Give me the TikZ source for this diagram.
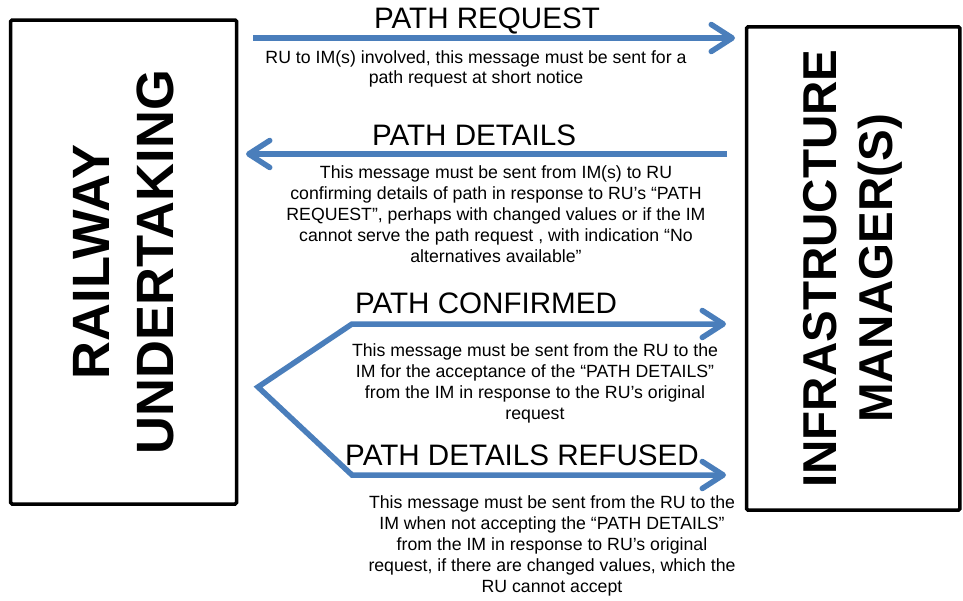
\documentclass[tikz,border=0pt]{standalone}
\usepackage{fontspec}
\setmainfont{Liberation Sans}
\usetikzlibrary{arrows.meta}
\definecolor{flow}{RGB}{74,126,187}

\tikzset{
  barb/.tip={Straight Barb[length=21pt,width=27pt,round]},
}

\begin{document}
\begin{tikzpicture}[x=1pt,y=-1pt,
  party/.style 2 args={draw=black, line width=3.5pt, rounded corners=1.5pt, inner sep=0pt,
    rotate=90, align=center, font=\bfseries\fontsize{#1}{#2}\selectfont},
  msg/.style={draw=flow, line width=5.5pt, line join=miter, -{barb}},
  msgboth/.style={draw=flow, line width=5.5pt, line join=miter, {barb}-{barb}},
  title/.style={font=\fontsize{29.6}{30}\selectfont, anchor=base, inner sep=0pt},
  note/.style={font=\fontsize{17.7}{#1}\selectfont, align=center, anchor=north, inner sep=0pt}]

  % page frame
  \useasboundingbox (0,0) rectangle (963,600);

  % the two parties
  \node[party={52.5}{64}, minimum width=484pt, minimum height=226pt] (ru) at (123.7,262)
    {RAILWAY\\UNDERTAKING};
  \node[party={47.5}{56}, minimum width=483.4pt, minimum height=213.3pt] (im) at (853.3,268.5)
    {INFRASTRUCTURE\\MANAGER(S)};

  % arrow end points
  \coordinate (rq0) at (253,38);
  \coordinate (rq1) at (735,38);
  \coordinate (dt0) at (727,154);
  \coordinate (dt1) at (246,154);
  \coordinate (fork) at (258,387);
  \coordinate (cf0) at (352,324);
  \coordinate (cf1) at (726,324);
  \coordinate (rf0) at (352,475);
  \coordinate (rf1) at (726,475);

  % messages
  \draw[msg] (rq0) -- (rq1);
  \draw[msg] (dt0) -- (dt1);
  \draw[msgboth] (cf1) -- (cf0) -- (fork) -- (rf0) -- (rf1);

  % message names
  \node[title] (treq) at (487,28) {PATH REQUEST};
  \node[title] (tdet) at (474,145) {PATH DETAILS};
  \node[title] (tcon) at (486,313) {PATH CONFIRMED};
  \node[title] (tref) at (522,465) {PATH DETAILS REFUSED};

  % message descriptions
  \node[note=20] (nreq) at (476,50)
    {RU to IM(s) involved, this message must be sent for a\\path request at short notice};
  \node[note=21.2] (ndet) at (496,165)
    {This message must be sent from IM(s) to RU\\confirming details of path in response to RU’s “PATH\\REQUEST”, perhaps with changed values or if the IM\\cannot serve the path request , with indication “No\\alternatives available”};
  \node[note=21] (ncon) at (535,343)
    {This message must be sent from the RU to the\\IM for the acceptance of the “PATH DETAILS”\\from the IM in response to the RU’s original\\request};
  \node[note=21] (nref) at (552,495)
    {This message must be sent from the RU to the\\IM when not accepting the “PATH DETAILS”\\from the IM in response to RU’s original\\request, if there are changed values, which the\\RU cannot accept};
\end{tikzpicture}
\end{document}
